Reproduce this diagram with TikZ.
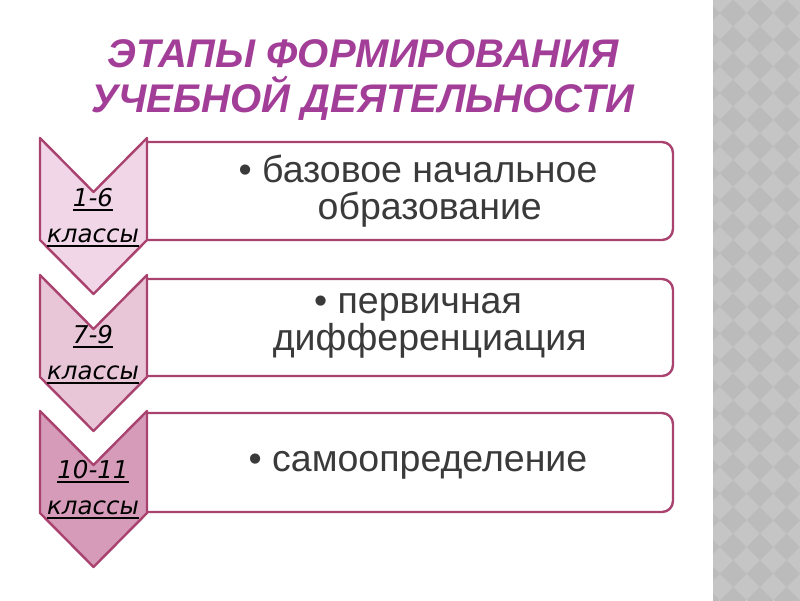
\documentclass[tikz,border=0pt]{standalone}
\usepackage{fontspec}
\setmainfont{Liberation Sans}
\newfontfamily\stagefont{DejaVu Sans}
\newcommand{\stageul}[1]{\setbox0\hbox{#1}\rlap{\rule[-4.5pt]{\wd0}{1.6pt}}\box0}
\definecolor{titlepurple}{RGB}{163,62,152}
\definecolor{boxline}{RGB}{170,66,112}
\definecolor{itemgray}{RGB}{58,58,58}
\definecolor{stageA}{RGB}{241,214,231}
\definecolor{stageB}{RGB}{232,198,215}
\definecolor{stageC}{RGB}{213,155,184}
\definecolor{stripbase}{RGB}{197,197,197}
\definecolor{stripdark}{RGB}{187,187,187}
\begin{document}
\begin{tikzpicture}[x=1pt, y=-1pt]
  \tikzset{
    edge/.style={draw=boxline, line width=2.4pt, line join=round},
    stagebox/.style={edge, fill=white, rounded corners=11pt},
    stagelabel/.style={font=\stagefont\itshape\fontsize{24.5}{36}\selectfont, align=center, anchor=base},
    itemtext/.style={font=\fontsize{37.5}{37}\selectfont, text=itemgray, align=center, anchor=base}
  }
  \useasboundingbox[fill=white] (0,0) rectangle (800,600);
  % patterned strip on the right
  \fill[stripbase] (713,0) rectangle (800,600);
  \begin{scope}
    \clip (713,0) rectangle (800,600);
    \foreach \j in {0,...,23} {
      \foreach \i in {0,...,3} {
        \pgfmathsetmacro{\cx}{706.5 + 26.7*\i}
        \pgfmathsetmacro{\cy}{13 + 26.7*\j}
        \fill[stripdark] (\cx-13.35,\cy) -- (\cx,\cy-13.35) -- (\cx+13.35,\cy) -- (\cx,\cy+13.35) -- cycle;
      }
    }
  \end{scope}

  \node[font=\bfseries\itshape\fontsize{40}{45}\selectfont, text=titlepurple, align=center, anchor=base] (title) at (363,112)
    {ЭТАПЫ ФОРМИРОВАНИЯ\\УЧЕБНОЙ ДЕЯТЕЛЬНОСТИ};

  % boxes
  \draw[stagebox] (146,142) -| (673,240) -- (146,240);
  \draw[stagebox] (146,279) -| (673,376) -- (146,376);
  \draw[stagebox] (146,413) -| (673,512) -- (146,512);

  % chevrons
  \draw[edge, fill=stageA] (40,138) -- ++(53.5,54) -- ++(53.5,-54) -- ++(0,102) -- ++(-53.5,54) -- ++(-53.5,-54) -- cycle;
  \draw[edge, fill=stageB] (40,275) -- ++(53.5,54) -- ++(53.5,-54) -- ++(0,102) -- ++(-53.5,54) -- ++(-53.5,-54) -- cycle;
  \draw[edge, fill=stageC] (40,411) -- ++(53.5,54) -- ++(53.5,-54) -- ++(0,102) -- ++(-53.5,54) -- ++(-53.5,-54) -- cycle;

  \node[stagelabel] (s1) at (93,242) {\stageul{1-6}\\\stageul{классы}};
  \node[stagelabel] (s2) at (93,379) {\stageul{7-9}\\\stageul{классы}};
  \node[stagelabel] (s3) at (93,514) {\stageul{10-11}\\\stageul{классы}};

  \node[itemtext] (i1) at (418,219) {• базовое начальное\\\phantom{• }образование};
  \node[itemtext] (i2) at (418,350) {• первичная\\\phantom{• }дифференциация};
  \node[itemtext] (i3) at (418,471) {• самоопределение};
\end{tikzpicture}
\end{document}
